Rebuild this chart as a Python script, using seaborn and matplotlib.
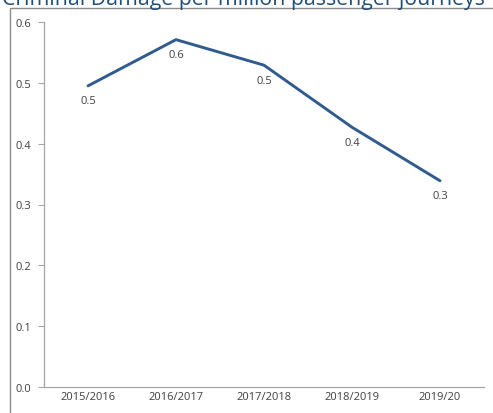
import matplotlib
import numpy as np
import pandas as pd
import seaborn as sns

matplotlib.use("Agg")
import matplotlib.pyplot as plt
from matplotlib.patches import Rectangle


TITLE = "Criminal Damage per million passenger journeys"
YEARS = ["2015/2016", "2016/2017", "2017/2018", "2018/2019", "2019/20"]
VALUES = [0.495, 0.571, 0.529, 0.427, 0.339]
LABELS = ["0.5", "0.6", "0.5", "0.4", "0.3"]
Y_TICKS = [0.0, 0.1, 0.2, 0.3, 0.4, 0.5, 0.6]

LINE_COLOR = "#2F5B8F"
TEXT_COLOR = "#404040"
AXIS_COLOR = "#A6A6A6"


def main() -> None:
    sns.set_theme(style="white")
    plt.rcParams["font.family"] = ["Open Sans", "DejaVu Sans"]

    W, H = 493, 414
    fig = plt.figure(figsize=(W / 100, H / 100), dpi=100)
    fig.patch.set_facecolor("white")

    # outer chart frame (cropped by the image edge, as in the source)
    fig.patches.append(
        Rectangle((10 / W, -0.1), 1.2, 1 - 9 / H + 0.1, transform=fig.transFigure,
                  fill=False, edgecolor="#8C8C8C", linewidth=1.0)
    )
    fig.text(2 / W, 1 - 5 / H, TITLE, fontsize=15.3, color="#1F4E79",
             ha="left", va="baseline")

    ax = fig.add_axes([44 / W, (H - 388) / H, 440 / W, 365 / H])
    df = pd.DataFrame({"Year": YEARS, "Value": VALUES})
    df["pos"] = np.arange(len(df))
    sns.lineplot(data=df, x="pos", y="Value", ax=ax, color=LINE_COLOR,
                 linewidth=2.1, sort=False)

    for x, y, lab in zip(df["pos"], df["Value"], LABELS):
        ax.annotate(lab, (x, y), xytext=(0, -15), textcoords="offset pixels",
                    ha="center", va="center", fontsize=8, color=TEXT_COLOR)

    ax.set_xlim(-0.5, len(YEARS) - 0.5)
    ax.set_ylim(0, 0.6)
    ax.set_yticks(Y_TICKS)
    ax.set_yticklabels([f"{t:.1f}" for t in Y_TICKS])
    ax.set_xticks(df["pos"])
    ax.set_xticklabels(YEARS)
    ax.set_xticks(np.arange(-0.5, len(YEARS)), minor=True)
    ax.tick_params(axis="x", which="major", length=0, pad=3, labelsize=8,
                   labelcolor=TEXT_COLOR)
    ax.tick_params(axis="x", which="minor", length=4, color=AXIS_COLOR,
                   direction="out", width=0.8)
    ax.tick_params(axis="y", length=4, color=AXIS_COLOR, direction="out",
                   width=0.8, pad=5, labelsize=8, labelcolor=TEXT_COLOR, left=True)
    ax.set_xlabel("")
    ax.set_ylabel("")
    for side in ["top", "right"]:
        ax.spines[side].set_visible(False)
    for side in ["left", "bottom"]:
        ax.spines[side].set_color(AXIS_COLOR)
        ax.spines[side].set_linewidth(0.9)
    ax.set_facecolor("white")

    fig.savefig("out.png", dpi=100, facecolor="white")


if __name__ == "__main__":
    main()
